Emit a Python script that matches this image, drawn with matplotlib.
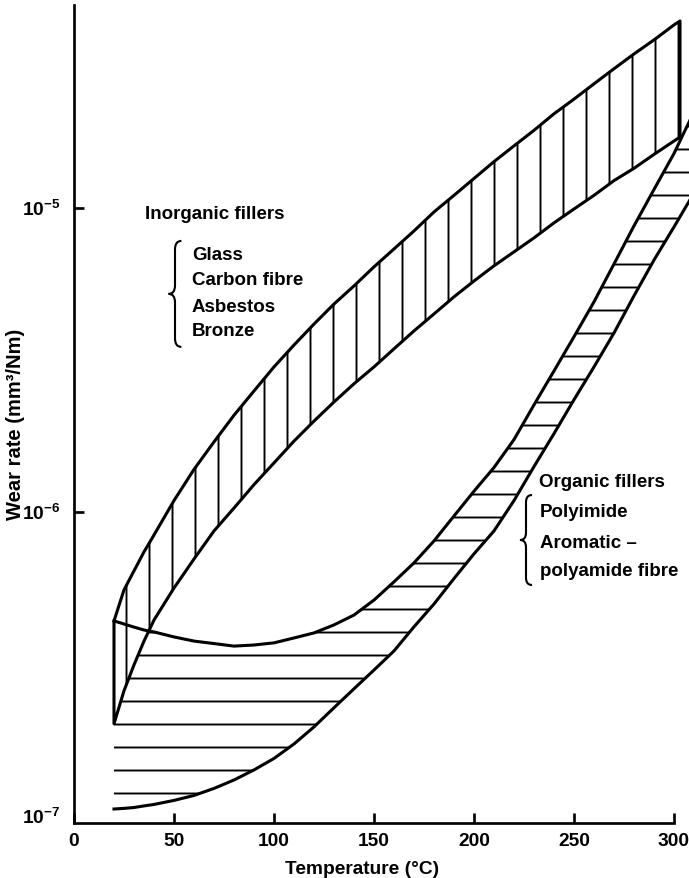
import numpy as np
import matplotlib
matplotlib.use("Agg")
import matplotlib.pyplot as plt
from matplotlib.path import Path
from matplotlib.patches import PathPatch
from matplotlib.ticker import NullLocator

# wear-rate bands (mm^3/Nm) against temperature (deg C)
inorg_temp = [20, 25, 30, 35, 40, 50, 60, 70, 80, 90, 100, 110, 120, 130, 140, 150,
              160, 170, 180, 190, 200, 210, 220, 230, 240, 250, 260, 270, 280, 290, 300, 303]
inorg_upper = [4.38e-7, 5.54e-7, 6.40e-7, 7.39e-7, 8.40e-7, 1.09e-6, 1.38e-6, 1.70e-6,
               2.08e-6, 2.50e-6, 3.00e-6, 3.54e-6, 4.15e-6, 4.83e-6, 5.54e-6, 6.40e-6,
               7.33e-6, 8.40e-6, 9.70e-6, 1.10e-5, 1.25e-5, 1.42e-5, 1.60e-5, 1.80e-5,
               2.04e-5, 2.28e-5, 2.56e-5, 2.87e-5, 3.21e-5, 3.57e-5, 4.00e-5, 4.12e-5]
inorg_lower = [2.01e-7, 2.58e-7, 3.14e-7, 3.76e-7, 4.41e-7, 5.62e-7, 7.00e-7, 8.66e-7,
               1.03e-6, 1.23e-6, 1.45e-6, 1.71e-6, 1.99e-6, 2.30e-6, 2.64e-6, 3.00e-6,
               3.44e-6, 3.94e-6, 4.48e-6, 5.10e-6, 5.75e-6, 6.45e-6, 7.17e-6, 7.97e-6,
               8.93e-6, 9.92e-6, 1.10e-5, 1.23e-5, 1.35e-5, 1.50e-5, 1.66e-5, 1.71e-5]

org_temp = [20, 25, 30, 35, 40, 50, 60, 70, 80, 90, 100, 110, 120, 130, 140, 150,
            160, 170, 180, 190, 200, 210, 220, 230, 240, 250, 260, 270, 280, 290, 300, 305, 310]
org_upper = [4.38e-7, 4.28e-7, 4.18e-7, 4.09e-7, 4.03e-7, 3.88e-7, 3.76e-7, 3.69e-7,
             3.62e-7, 3.65e-7, 3.71e-7, 3.85e-7, 4.00e-7, 4.25e-7, 4.58e-7, 5.13e-7,
             5.89e-7, 6.80e-7, 8.03e-7, 9.70e-7, 1.17e-6, 1.40e-6, 1.73e-6, 2.25e-6,
             2.91e-6, 3.77e-6, 4.91e-6, 6.54e-6, 8.73e-6, 1.15e-5, 1.51e-5, 1.77e-5, 2.07e-5]
org_lower = [1.054e-7, 1.059e-7, 1.066e-7, 1.079e-7, 1.091e-7, 1.125e-7, 1.168e-7, 1.232e-7,
             1.313e-7, 1.417e-7, 1.546e-7, 1.725e-7, 1.963e-7, 2.27e-7, 2.62e-7, 3.02e-7,
             3.49e-7, 4.19e-7, 4.98e-7, 6.04e-7, 7.28e-7, 8.66e-7, 1.09e-6, 1.41e-6,
             1.81e-6, 2.34e-6, 3.00e-6, 3.88e-6, 5.14e-6, 6.74e-6, 8.66e-6, 9.85e-6, 1.12e-5]

x_ticks = [0, 50, 100, 150, 200, 250, 300]
y_ticks = [1e-7, 1e-6, 1e-5]
y_tick_labels = [r"$\mathbf{10^{-7}}$", r"$\mathbf{10^{-6}}$", r"$\mathbf{10^{-5}}$"]

inorg_title = "Inorganic fillers"
inorg_items = ["Glass", "Carbon fibre", "Asbestos", "Bronze"]
org_title = "Organic fillers"
org_items = ["Polyimide", "Aromatic \u2013", "polyamide fibre"]

plt.rcParams["font.family"] = ["Liberation Sans", "DejaVu Sans"]
plt.rcParams["font.weight"] = "bold"
plt.rcParams["axes.labelweight"] = "bold"
plt.rcParams["mathtext.fontset"] = "custom"
plt.rcParams["mathtext.rm"] = "Liberation Sans:bold"
plt.rcParams["mathtext.bf"] = "Liberation Sans:bold"
plt.rcParams["hatch.linewidth"] = 1.0
plt.rcParams["hatch.color"] = "black"

DPI = 138
fig = plt.figure(figsize=(689 / DPI, 878 / DPI), dpi=DPI)
ax = fig.add_axes([74 / 689, 55 / 878, 615 / 689, 823 / 878])

LW = 1.6

# organic band: horizontal hatching
ax.fill_between(org_temp, org_lower, org_upper, facecolor="none", edgecolor="black",
                hatch="-", linewidth=0, zorder=1)
# inorganic band: vertical hatching, opaque so it hides the organic hatch where they overlap
ax.fill_between(inorg_temp, inorg_lower, inorg_upper, facecolor="white", edgecolor="black",
                hatch="|", linewidth=LW, zorder=2)
ax.plot(org_temp, org_upper, color="black", lw=LW, zorder=3)
ax.plot(org_temp, org_lower, color="black", lw=LW, zorder=3)


def brace(ax, x, lo, hi, w):
    """Curly brace opening to the right, spanning lo..hi on the log axis."""
    a, b = np.log10(lo), np.log10(hi)
    m = (a + b) / 2
    h = (b - a) * 0.08
    pts = [(x + w, b), (x, b), (x, b - h), (x, m + h), (x, m), (x - w, m),
           (x, m), (x, m - h), (x, a + h), (x, a), (x + w, a)]
    codes = [Path.MOVETO, Path.CURVE3, Path.CURVE3, Path.LINETO, Path.CURVE3, Path.CURVE3,
             Path.CURVE3, Path.CURVE3, Path.LINETO, Path.CURVE3, Path.CURVE3]
    verts = [(px, 10 ** py) for px, py in pts]
    ax.add_patch(PathPatch(Path(verts, codes), facecolor="none", edgecolor="black",
                           lw=1.1, zorder=4))


fs = 9.8
ax.text(35.5, 9.49e-6, inorg_title, fontsize=fs, va="center", ha="left")
for label, yv in zip(inorg_items, [7.00e-6, 5.75e-6, 4.72e-6, 3.91e-6]):
    ax.text(59, yv, label, fontsize=fs, va="center", ha="left")
brace(ax, 50.5, 3.49e-6, 7.79e-6, 3.2)

ax.text(232.5, 1.246e-6, org_title, fontsize=fs, va="center", ha="left")
for label, yv in zip(org_items, [9.92e-7, 7.85e-7, 6.35e-7]):
    ax.text(233, yv, label, fontsize=fs, va="center", ha="left")
brace(ax, 226, 5.75e-7, 1.137e-6, 3.0)

ax.set_yscale("log")
ax.set_xlim(0, 307.5)
ax.set_ylim(9.48e-8, 4.83e-5)

ax.spines["top"].set_visible(False)
ax.spines["right"].set_visible(False)
for side in ("left", "bottom"):
    ax.spines[side].set_linewidth(1.4)
ax.spines["bottom"].set_bounds(0, 300)
ax.spines["left"].set_bounds(9.48e-8, 4.65e-5)

ax.set_xticks(x_ticks)
ax.set_yticks(y_ticks)
ax.set_yticklabels(y_tick_labels)
ax.yaxis.set_minor_locator(NullLocator())
ax.tick_params(direction="in", length=5, width=1.4, labelsize=10, pad=5)
ax.tick_params(axis="y", pad=7)
# the lowest decade sits on the corner, so it carries no tick mark
ax.yaxis.get_major_ticks()[0].tick1line.set_visible(False)

ax.set_xlabel("Temperature (\u00b0C)", fontsize=10, fontweight="bold")
ax.xaxis.set_label_coords(0.468, -0.046)
ax.set_ylabel("Wear rate (mm\u00b3/Nm)", fontsize=10.5, fontweight="bold")
ax.yaxis.set_label_coords(-0.08, 0.484)

fig.savefig("out.png", dpi=DPI)
